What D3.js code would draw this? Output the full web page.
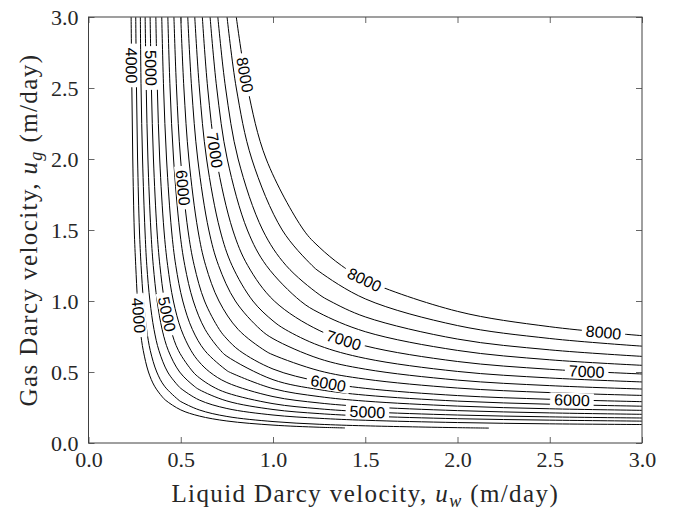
<!DOCTYPE html>
<html><head><meta charset="utf-8">
<script src="https://cdn.jsdelivr.net/npm/d3@7"></script>
<style>
html,body{margin:0;padding:0;background:#fff;}
svg{display:block;}
</style></head>
<body>
<svg id="chart" width="675" height="511"></svg>
<script>
// Contour levels of the field (17 lines, every 250)
const levels = [4000,4250,4500,4750,5000,5250,5500,5750,6000,6250,6500,6750,7000,7250,7500,7750,8000];

// Gas velocities at which the steep branch of every contour is sampled
const ugRows = [3.0, 2.5, 2.0, 1.5, 1.25, 1.0, 0.8, 0.65, 0.5, 0.4, 0.3];
// Liquid velocity where each contour crosses those rows (null = not on the steep branch)
const uwAtRows = [
  [0.231,0.235,0.240,0.248,0.256,0.266,0.280,0.297,0.325,0.358,0.419],
  [0.256,0.260,0.266,0.276,0.285,0.298,0.315,0.335,0.370,0.412,0.491],
  [0.281,0.285,0.293,0.306,0.316,0.333,0.355,0.382,0.429,0.488,null],
  [0.307,0.313,0.322,0.338,0.351,0.372,0.399,0.433,0.494,0.573,null],
  [0.334,0.341,0.352,0.371,0.387,0.412,0.446,0.488,0.567,0.669,null],
  [0.365,0.373,0.386,0.409,0.429,0.460,0.502,0.556,0.657,null,null],
  [0.397,0.407,0.423,0.450,0.473,0.511,0.563,0.631,0.763,null,null],
  [0.430,0.442,0.461,0.494,0.522,0.568,0.632,0.717,null,null,null],
  [0.463,0.477,0.499,0.539,0.573,0.629,0.709,0.819,null,null,null],
  [0.500,0.517,0.544,0.593,0.635,0.707,0.811,0.957,null,null,null],
  [0.538,0.559,0.592,0.652,0.705,0.796,0.931,null,null,null,null],
  [0.576,0.601,0.640,0.713,0.778,0.891,1.066,null,null,null,null],
  [0.617,0.646,0.693,0.782,0.863,1.007,null,null,null,null,null],
  [0.659,0.695,0.752,0.861,0.964,1.149,null,null,null,null,null],
  [0.701,0.743,0.811,0.944,1.071,1.309,null,null,null,null,null],
  [0.751,0.801,0.885,1.050,1.212,null,null,null,null,null,null],
  [0.801,0.862,0.963,1.166,1.371,null,null,null,null,null,null]
];

// Liquid velocities at which the flat branch of every contour is sampled
const uwCols = [0.4, 0.5, 0.6, 0.75, 1.0, 1.25, 1.5, 2.0, 2.5, 3.0];
// Gas velocity where each contour crosses those columns (null = not on the flat branch)
const ugAtCols = [
  [0.325,0.233,0.190,0.155,0.126,0.111,null,null,null,null],
  [null,0.292,0.233,0.187,0.151,0.132,0.121,0.108,null,null],
  [null,0.385,0.303,0.243,0.197,0.174,0.160,0.144,0.135,0.130],
  [null,null,0.376,0.296,0.236,0.207,0.190,0.171,0.161,0.154],
  [null,null,0.460,0.353,0.277,0.241,0.220,0.197,0.184,0.176],
  [null,null,0.571,0.426,0.327,0.282,0.256,0.228,0.212,0.202],
  [null,null,null,0.510,0.383,0.327,0.295,0.260,0.241,0.230],
  [null,null,null,0.611,0.446,0.376,0.337,0.295,0.273,0.259],
  [null,null,null,0.733,0.521,0.433,0.385,0.334,0.308,0.291],
  [null,null,null,null,0.621,0.509,0.450,0.387,0.355,0.335],
  [null,null,null,null,0.735,0.594,0.520,0.443,0.404,0.380],
  [null,null,null,null,0.860,0.686,0.596,0.504,0.458,0.430],
  [null,null,null,null,null,0.793,0.684,0.574,0.519,0.486],
  [null,null,null,null,null,0.917,0.784,0.652,0.586,0.547],
  [null,null,null,null,null,1.046,0.888,0.732,0.656,0.610],
  [null,null,null,null,null,1.208,1.015,0.827,0.736,0.682],
  [null,null,null,null,null,1.380,1.148,0.927,0.819,0.756]
];

// The two lowest contours stop at the bottom of the computed grid
const lineEnds = [[[1.39,0.106]], [[2.17,0.105]]];

// Inline labels: level and the point (uw, ug) near which it sits
const labelLevels = [4000,4000,5000,5000,5000,6000,6000,6000,7000,7000,7000,8000,8000,8000];
const labelAt = [[0.23,2.66],[0.28,0.90],[0.335,2.64],[0.43,0.91],[1.51,0.209],
                 [0.518,1.80],[1.30,0.432],[2.62,0.291],[0.675,2.06],[1.39,0.749],
                 [2.70,0.486],[0.844,2.59],[1.50,1.162],[2.79,0.754]];

const tickValues = [0.0,0.5,1.0,1.5,2.0,2.5,3.0];

const svg = d3.select("#chart");
const X0 = 88.5, X1 = 642, Y0 = 443, Y1 = 17;
const x = d3.scaleLinear().domain([0,3]).range([X0,X1]);
const y = d3.scaleLinear().domain([0,3]).range([Y0,Y1]);

// Merge row and column samples into one ordered polyline per level
function contourPoints(i){
  const pts = [];
  ugRows.forEach((g,j)=>{ const u = uwAtRows[i][j]; if(u!=null) pts.push([u,g]); });
  uwCols.forEach((u,j)=>{ const g = ugAtCols[i][j]; if(g!=null) pts.push([u,g]); });
  (lineEnds[i]||[]).forEach(p=>pts.push(p));
  pts.sort((a,b)=>a[0]-b[0] || b[1]-a[1]);
  const out = [];
  for(const p of pts){
    const q = out[out.length-1];
    if(!q || (p[0]>q[0] && p[1]<q[1])) out.push(p);
  }
  return out;
}

const defs = svg.append("defs");
defs.append("clipPath").attr("id","plotClip")
  .append("rect").attr("x",X0).attr("y",Y1).attr("width",X1-X0).attr("height",Y0-Y1);
const mask = defs.append("mask").attr("id","labelGaps")
  .attr("maskUnits","userSpaceOnUse").attr("x",0).attr("y",0).attr("width",675).attr("height",511);
mask.append("rect").attr("x",0).attr("y",0).attr("width",675).attr("height",511).attr("fill","#fff");

const line = d3.line().x(d=>x(d[0])).y(d=>y(d[1])).curve(d3.curveCatmullRom.alpha(0.5));

const plot = svg.append("g").attr("clip-path","url(#plotClip)");
const lines = plot.append("g").attr("mask","url(#labelGaps)");
const paths = levels.map((lv,i)=>
  lines.append("path").datum(contourPoints(i)).attr("d",line)
    .attr("fill","none").attr("stroke","#000").attr("stroke-width",1)
    .node());

// Labels placed along their contour, rotated with the local tangent
const labelG = svg.append("g");
labelLevels.forEach((lv,k)=>{
  const p = paths[levels.indexOf(lv)];
  const L = p.getTotalLength();
  const tx = x(labelAt[k][0]), ty = y(labelAt[k][1]);
  let best = 0, bd = Infinity;
  for(let s=0;s<=L;s+=0.5){
    const q = p.getPointAtLength(s);
    const d = (q.x-tx)**2+(q.y-ty)**2;
    if(d<bd){bd=d;best=s;}
  }
  const c = p.getPointAtLength(best);
  const a = p.getPointAtLength(Math.max(0,best-6)), b = p.getPointAtLength(Math.min(L,best+6));
  let dx = b.x-a.x, dy = b.y-a.y;
  if(dx<0){dx=-dx;dy=-dy;}
  const ang = Math.atan2(dy,dx)*180/Math.PI;
  const t = labelG.append("text")
    .attr("transform",`translate(${c.x},${c.y}) rotate(${ang})`)
    .attr("text-anchor","middle").attr("dy","0.36em")
    .attr("font-family","'Liberation Sans', Arial, sans-serif").attr("font-size",16)
    .attr("fill","#000").text(d3.format("d")(lv));
  const w = t.node().getComputedTextLength();
  mask.append("rect").attr("x",-w/2-4).attr("y",-7).attr("width",w+8).attr("height",14)
    .attr("transform",`translate(${c.x},${c.y}) rotate(${ang})`).attr("fill","#000");
});

// Axes: ticks pointing inward on all four sides
const axisColor = "#404040";
const textColor = "#262626";
const serif = "'Liberation Serif','DejaVu Serif',serif";
const fmt = d3.format(".1f");
function styleAxis(g, showLabels){
  g.select(".domain").remove();
  g.selectAll(".tick line").attr("stroke",axisColor).attr("stroke-width",0.8);
  g.selectAll(".tick text").attr("fill",textColor)
    .attr("font-family",serif).attr("font-size",22);
  if(!showLabels) g.selectAll(".tick text").remove();
}
svg.append("g").attr("transform",`translate(0,${Y0})`)
  .call(d3.axisBottom(x).tickValues(tickValues).tickFormat(fmt).tickSizeInner(-6).tickSizeOuter(0).tickPadding(8))
  .call(g=>styleAxis(g,true));
svg.append("g").attr("transform",`translate(0,${Y1})`)
  .call(d3.axisTop(x).tickValues(tickValues).tickSizeInner(-6).tickSizeOuter(0))
  .call(g=>styleAxis(g,false));
svg.append("g").attr("transform",`translate(${X0},0)`)
  .call(d3.axisLeft(y).tickValues(tickValues).tickFormat(fmt).tickSizeInner(-6).tickSizeOuter(0).tickPadding(10))
  .call(g=>styleAxis(g,true));
svg.append("g").attr("transform",`translate(${X1},0)`)
  .call(d3.axisRight(y).tickValues(tickValues).tickSizeInner(-6).tickSizeOuter(0))
  .call(g=>styleAxis(g,false));
svg.append("rect").attr("x",X0).attr("y",Y1).attr("width",X1-X0).attr("height",Y0-Y1)
  .attr("fill","none").attr("stroke",axisColor).attr("stroke-width",1);

// Axis titles
function title(sel, sub){
  sel.attr("text-anchor","middle").attr("font-family",serif).attr("font-size",25)
    .attr("letter-spacing",1.4).attr("fill",textColor);
  sel.append("tspan").text(sub[0]);
  sel.append("tspan").attr("font-style","italic").text("u");
  sel.append("tspan").attr("font-style","italic").attr("font-size",18).attr("dy",5).text(sub[1]);
  sel.append("tspan").attr("dy",-5).text(" (m/day)");
}
svg.append("text").attr("x",(X0+X1)/2).attr("y",502)
  .call(s=>title(s,["Liquid Darcy velocity, ","w"]));
svg.append("text").attr("transform",`translate(37,${(Y0+Y1)/2}) rotate(-90)`)
  .call(s=>title(s,["Gas Darcy velocity, ","g"]));
</script>
</body></html>
